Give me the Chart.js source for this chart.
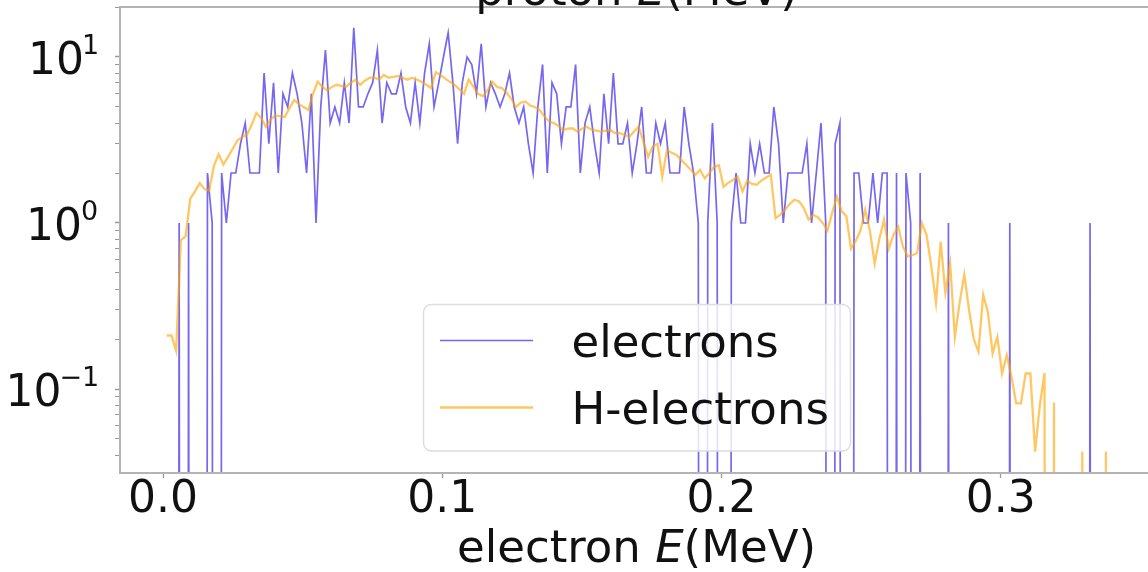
<!DOCTYPE html>
<html>
<head>
<meta charset="utf-8">
<script src="https://cdn.jsdelivr.net/npm/chart.js@4.4.1/dist/chart.umd.min.js"></script>
<style>
  html, body { margin: 0; padding: 0; background: #ffffff; overflow: hidden; }
  #wrap { position: relative; width: 1148px; height: 572px; overflow: hidden; background: #ffffff; }
  #c { position: absolute; left: 0; top: 0; }
</style>
</head>
<body>
<div id="wrap"><canvas id="c" width="1200" height="580"></canvas></div>
<script>
// Energy histograms: bin grid (MeV)
const binCount = 200;
const binWidth = 0.00169;
const electronBinStart = 0.0024;
const hElectronBinStart = 0.00132;

// Counts per bin for electrons
const electronCounts = [
  0, 0, 1, 0, 1, 0, 0, 0, 2, 1,
  0, 2, 1, 2, 2, 3, 4, 2, 2, 2,
  8, 3, 7, 2, 6, 5, 8, 6, 4, 2,
  6, 1, 5, 11, 4, 5, 4, 7, 4, 15,
  5, 5, 6, 7, 11, 4, 7, 6, 6, 8,
  5, 4, 7, 4, 8, 12, 5, 7, 10, 14,
  7, 3, 7, 10, 9, 6, 12, 5, 7, 6,
  5, 6, 8, 5, 4, 5, 3, 2, 5, 9,
  2, 7, 6, 3, 5, 5, 9, 2, 4, 5,
  3, 2, 6, 3, 8, 3, 3, 4, 2, 3,
  5, 2, 2, 4, 3, 4, 2, 2, 2, 5,
  3, 2, 1, 0, 1, 4, 1, 0, 0, 1,
  2, 1, 1, 3, 2, 3, 2, 2, 5, 3,
  1, 2, 2, 2, 2, 3, 1, 2, 4, 1,
  0, 3, 4, 0, 0, 2, 2, 1, 1, 2,
  1, 2, 2, 0, 2, 0, 2, 1, 0, 2,
  0, 0, 0, 0, 0, 1, 0, 0, 0, 0,
  0, 0, 0, 0, 0, 0, 0, 0, 1, 0,
  0, 0, 0, 0, 0, 0, 0, 0, 0, 0,
  0, 0, 0, 0, 0, 1, 0, 0, 0, 0
];

// Averaged values per bin for H-electrons
const hElectronValues = [
  0.21, 0.21, 0.17, 0.79, 0.83, 1.4, 1.55, 1.74, 1.6, 1.57,
  2.2, 2.6, 2.25, 2.5, 2.8, 3.15, 3.3, 3.4, 3.9, 4.6,
  4.3, 3.8, 4.2, 4.45, 4.4, 4.35, 4.9, 5.5, 5.2, 5.0,
  4.8, 6.0, 7.1, 6.6, 6.3, 6.6, 6.8, 6.7, 6.6, 7.0,
  7.3, 6.8, 7.2, 7.5, 7.5, 7.3, 7.8, 7.5, 7.6, 7.7,
  7.5, 7.3, 7.5, 7.3, 7.1, 6.8, 6.5, 8.1, 7.8, 7.4,
  7.1, 6.8, 6.4, 6.0, 7.3, 6.6, 6.0, 5.8, 6.3, 7.1,
  6.6, 6.5, 6.1, 5.6, 5.0, 5.3, 5.4, 5.1, 5.0, 4.8,
  4.4, 4.1, 4.0, 3.85, 3.63, 3.7, 3.72, 3.55, 3.7, 3.8,
  3.65, 3.6, 3.55, 3.6, 3.63, 3.48, 3.48, 3.4, 3.3, 3.55,
  3.8, 3.1, 2.5, 2.9, 3.0, 1.9, 2.75, 2.65, 2.57, 2.4,
  2.25, 2.1, 1.95, 2.09, 1.86, 2.0, 2.18, 2.23, 1.65, 1.75,
  1.82, 1.9, 1.55, 1.8, 1.72, 1.7, 1.8, 1.88, 1.95, 1.07,
  1.12, 1.2, 1.3, 1.38, 1.35, 1.23, 1.05, 1.12, 1.08, 1.0,
  0.9, 1.15, 1.44, 1.18, 1.1, 0.70, 0.78, 0.9, 1.2, 0.9,
  0.57, 0.8, 1.05, 0.70, 0.85, 0.95, 0.72, 0.63, 0.64, 0.66,
  1.0, 0.85, 0.55, 0.33, 0.77, 0.38, 0.57, 0.206, 0.33, 0.49,
  0.3, 0.2, 0.168, 0.37, 0.29, 0.164, 0.206, 0.124, 0.16, 0.118,
  0.082, 0.082, 0.124, 0.124, 0.042, 0.08, 0.125, 0, 0.083, 0,
  0, 0, 0, 0, 0.042, 0, 0, 0, 0, 0.042
];

const seriesLabels = ['electrons', 'H-electrons'];
const xTickValues = [0.0, 0.1, 0.2, 0.3];
const yDecades = [-1, 0, 1];
const titleParts = [['proton ', false], ['E', true], ['(MeV)', false]];
const xLabelParts = [['electron ', false], ['E', true], ['(MeV)', false]];

const xMin = -0.0154, xMax = 0.3545;
const yMin = 0.0312, yMax = 20.0;

const FONT = '"DejaVu Sans", "Liberation Sans", sans-serif';
const BLUE = 'rgba(72, 52, 235, 0.75)';
const ORANGE = 'rgba(255, 165, 0, 0.62)';

// Non-positive bins fall far below the log axis (like a clipped log plot)
const LOG_FLOOR = 1e-30;
function toPoints(values, start) {
  return values.map((v, i) => ({ x: start + i * binWidth, y: v > 0 ? v : LOG_FLOOR }));
}

function drawMixed(ctx, parts, cx, baseline, size, color) {
  const widths = parts.map(([t, it]) => {
    ctx.font = (it ? 'italic ' : '') + size + 'px ' + FONT;
    return ctx.measureText(t).width;
  });
  const total = widths.reduce((a, b) => a + b, 0);
  let x = cx - total / 2;
  ctx.fillStyle = color;
  ctx.textAlign = 'left';
  ctx.textBaseline = 'alphabetic';
  parts.forEach(([t, it], k) => {
    ctx.font = (it ? 'italic ' : '') + size + 'px ' + FONT;
    ctx.fillText(t, x, baseline);
    x += widths[k];
  });
}

function roundRect(ctx, x, y, w, h, r) {
  ctx.beginPath();
  ctx.moveTo(x + r, y);
  ctx.lineTo(x + w - r, y);
  ctx.arcTo(x + w, y, x + w, y + r, r);
  ctx.lineTo(x + w, y + h - r);
  ctx.arcTo(x + w, y + h, x + w - r, y + h, r);
  ctx.lineTo(x + r, y + h);
  ctx.arcTo(x, y + h, x, y + h - r, r);
  ctx.lineTo(x, y + r);
  ctx.arcTo(x, y, x + r, y, r);
  ctx.closePath();
}

// Log-axis decade labels drawn as 10 with a raised exponent
function drawDecadeLabels(chart) {
  const { ctx } = chart;
  const yScale = chart.scales.y;
  const inkRight = yScale.right - 23;
  ctx.save();
  ctx.fillStyle = '#111111';
  ctx.textBaseline = 'alphabetic';
  ctx.textAlign = 'left';
  yDecades.forEach(e => {
    const py = yScale.getPixelForValue(Math.pow(10, e));
    const exp = e < 0 ? '\u2212' + Math.abs(e) : String(e);
    const base = py + 17;
    ctx.font = '27px ' + FONT;
    const em = ctx.measureText(exp);
    const expX = inkRight - em.actualBoundingBoxRight;
    const expInkLeft = expX - em.actualBoundingBoxLeft;
    ctx.fillText(exp, expX, base - 20);
    ctx.font = '44px ' + FONT;
    const tm = ctx.measureText('10');
    const tenX = expInkLeft - 2 - tm.actualBoundingBoxRight;
    ctx.fillText('10', tenX, base);
  });
  ctx.restore();
}

// Axes frame, legend box, title and x-axis label
const decorations = {
  id: 'decorations',
  afterDatasetsDraw(chart) {
    const { ctx, chartArea: a } = chart;
    ctx.save();
    ctx.strokeStyle = '#b4b4b4';
    ctx.lineWidth = 2;
    ctx.strokeRect(a.left, a.top, a.right - a.left, a.bottom - a.top);

    // legend
    const lx = 423.5, ly = 304.5, lw = 427, lh = 146.5;
    roundRect(ctx, lx, ly, lw, lh, 8);
    ctx.fillStyle = 'rgba(255,255,255,0.82)';
    ctx.fill();
    ctx.strokeStyle = '#dddddd';
    ctx.lineWidth = 1.5;
    ctx.stroke();
    const rows = [340.5, 407.5];
    chart.data.datasets.forEach((ds, k) => {
      const y = rows[k];
      ctx.strokeStyle = ds.borderColor;
      ctx.lineWidth = ds.borderWidth;
      ctx.beginPath();
      ctx.moveTo(440, y);
      ctx.lineTo(533, y);
      ctx.stroke();
      ctx.fillStyle = '#111111';
      ctx.font = '45px ' + FONT;
      ctx.textAlign = 'left';
      ctx.textBaseline = 'alphabetic';
      ctx.fillText(ds.label, 571.5, y + 16);
    });

    const cx = (a.left + a.right) / 2;
    drawMixed(ctx, titleParts, cx, a.top - 2, 45, '#111111');
    drawMixed(ctx, xLabelParts, cx, 562, 45, '#111111');
    ctx.restore();
    drawDecadeLabels(chart);
  }
};

const yTickValues = [];
for (let e = -2; e <= 1; e++) {
  for (let m = 1; m <= 9; m++) {
    const v = m * Math.pow(10, e);
    if (v >= yMin && v <= yMax) yTickValues.push({ v, major: m === 1 });
  }
}

new Chart(document.getElementById('c'), {
  type: 'line',
  data: {
    datasets: [
      {
        label: seriesLabels[0],
        data: toPoints(electronCounts, electronBinStart),
        borderColor: BLUE,
        borderWidth: 1.7,
        pointRadius: 0,
        tension: 0,
        order: 1
      },
      {
        label: seriesLabels[1],
        data: toPoints(hElectronValues, hElectronBinStart),
        borderColor: ORANGE,
        borderWidth: 2.3,
        pointRadius: 0,
        tension: 0,
        order: 0
      }
    ]
  },
  options: {
    responsive: false,
    animation: false,
    devicePixelRatio: 1,
    layout: { padding: { top: 7, right: 47, bottom: 0, left: 0 } },
    plugins: {
      legend: { display: false },
      tooltip: { enabled: false },
      title: { display: false }
    },
    scales: {
      x: {
        type: 'linear',
        min: xMin,
        max: xMax,
        border: { display: false },
        grid: { display: true, drawOnChartArea: false, drawTicks: true, tickLength: 5, tickColor: '#9a9a9a', tickWidth: 1.3 },
        ticks: {
          color: '#111111',
          font: { family: FONT, size: 44, lineHeight: 1 },
          padding: 1,
          maxRotation: 0,
          autoSkip: false,
          callback: v => Number(v).toFixed(1)
        },
        afterBuildTicks: s => { s.ticks = xTickValues.map(v => ({ value: v })); },
        afterFit: s => { s.height = 107; s.paddingLeft = 0; s.paddingRight = 0; }
      },
      y: {
        type: 'logarithmic',
        min: yMin,
        max: yMax,
        border: { display: false },
        grid: {
          display: true, drawOnChartArea: false, drawTicks: true, tickLength: 5,
          tickColor: '#9a9a9a',
          tickWidth: c => (c.tick && yTickValues[c.index] && yTickValues[c.index].major) ? 1.5 : 1
        },
        ticks: { display: false, autoSkip: false },
        afterBuildTicks: s => { s.ticks = yTickValues.map(t => ({ value: t.v, major: t.major })); },
        afterFit: s => { s.width = 120; s.paddingTop = 0; s.paddingBottom = 0; }
      }
    }
  },
  plugins: [decorations]
});
</script>
</body>
</html>
